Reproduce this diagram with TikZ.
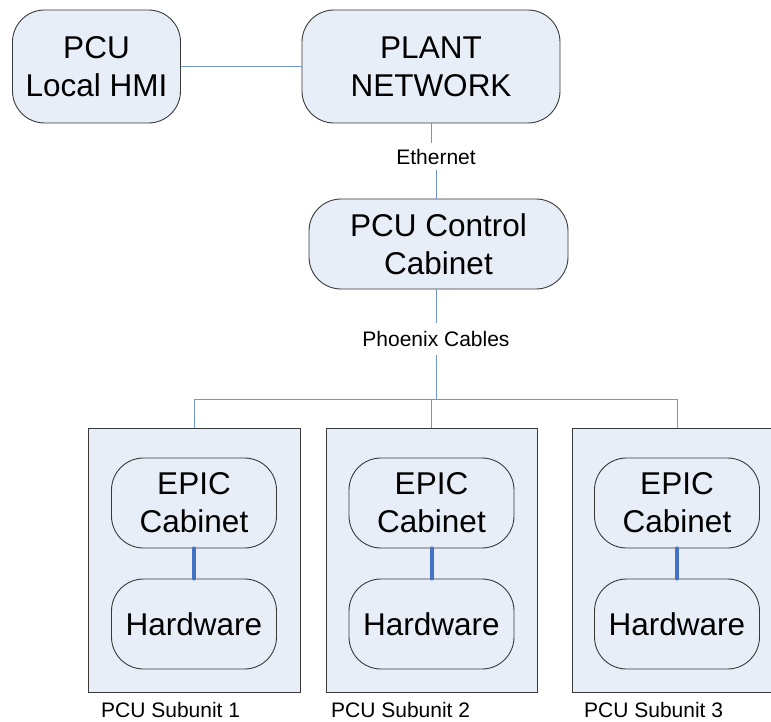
\documentclass[tikz,border=0pt]{standalone}
\usepackage{fontspec}
\setmainfont{Liberation Sans}
\definecolor{boxfill}{HTML}{E8EEF7}
\definecolor{boxline}{HTML}{3A3A3A}
\definecolor{wire}{HTML}{6F95D6}
\definecolor{link}{HTML}{4472C4}
\begin{document}
\begin{tikzpicture}[x=1pt,y=-1pt,
  unitbox/.style={draw=boxline,fill=boxfill,line width=0.9pt,rounded corners=32pt,
    align=center,inner sep=0pt,font=\fontsize{31.5}{38}\selectfont},
  subbox/.style={draw=boxline,fill=boxfill,line width=0.9pt,inner sep=0pt,
    minimum width=212pt,minimum height=264pt},
  wirelabel/.style={inner sep=0pt,font=\fontsize{21}{25}\selectfont},
  sublabel/.style={anchor=base west,inner sep=0pt,font=\fontsize{21}{25}\selectfont},
  wireline/.style={draw=wire,line width=0.9pt},
  linkline/.style={draw=link,line width=4pt,line cap=round}]
\useasboundingbox (0,0) rectangle (771,722);
\clip (0,0) rectangle (771,722);

% top level
\node[unitbox,minimum width=168pt,minimum height=113pt] (hmi) at (96.5,66.5) {PCU\\Local HMI};
\node[unitbox,minimum width=258pt,minimum height=113pt] (plant) at (431,66.5) {PLANT\\NETWORK};
\node[unitbox,minimum width=259pt,minimum height=90pt] (ctrl) at (438.5,244) {PCU Control\\Cabinet};

% wire labels
\node[wirelabel,minimum height=27pt] (eth) at (436,156.5) {Ethernet};
\node[wirelabel,minimum height=32pt] (phx) at (436,339) {Phoenix Cables};

% subunits
\node[subbox] (s1) at (194,560) {};
\node[subbox,minimum width=211pt] (s2) at (431.5,560) {};
\node[subbox] (s3) at (678,560) {};

\foreach \i/\x in {1/194,2/431.5,3/677}{
  \node[unitbox,minimum width=165pt,minimum height=90pt] (epic\i) at (\x,503) {EPIC\\Cabinet};
  \node[unitbox,minimum width=165pt,minimum height=90pt] (hw\i) at (\x,624) {Hardware};
  \draw[linkline] (epic\i.south) -- (hw\i.north);
}

\node[sublabel] (l1) at (101,717) {PCU Subunit 1};
\node[sublabel] (l2) at (331,717) {PCU Subunit 2};
\node[sublabel] (l3) at (584,717) {PCU Subunit 3};

% network wiring
\coordinate (bus) at (436,399);
\draw[wireline] (hmi.east) -- (plant.west);
\draw[wireline] ([xshift=-5pt]eth.north) -- ([xshift=-5pt]eth.north |- plant.south);
\draw[wireline] (eth.south) -- (eth.south |- ctrl.north);
\draw[wireline] (phx.north) -- (phx.north |- ctrl.south);
\draw[wireline] (phx.south) -- (bus);
\draw[wireline] (s1.north) -- (s1.north |- bus) -- ([xshift=-1pt]s3.north |- bus) -- ([xshift=-1pt]s3.north);
\draw[wireline] (s2.north) -- (s2.north |- bus);
\end{tikzpicture}
\end{document}
